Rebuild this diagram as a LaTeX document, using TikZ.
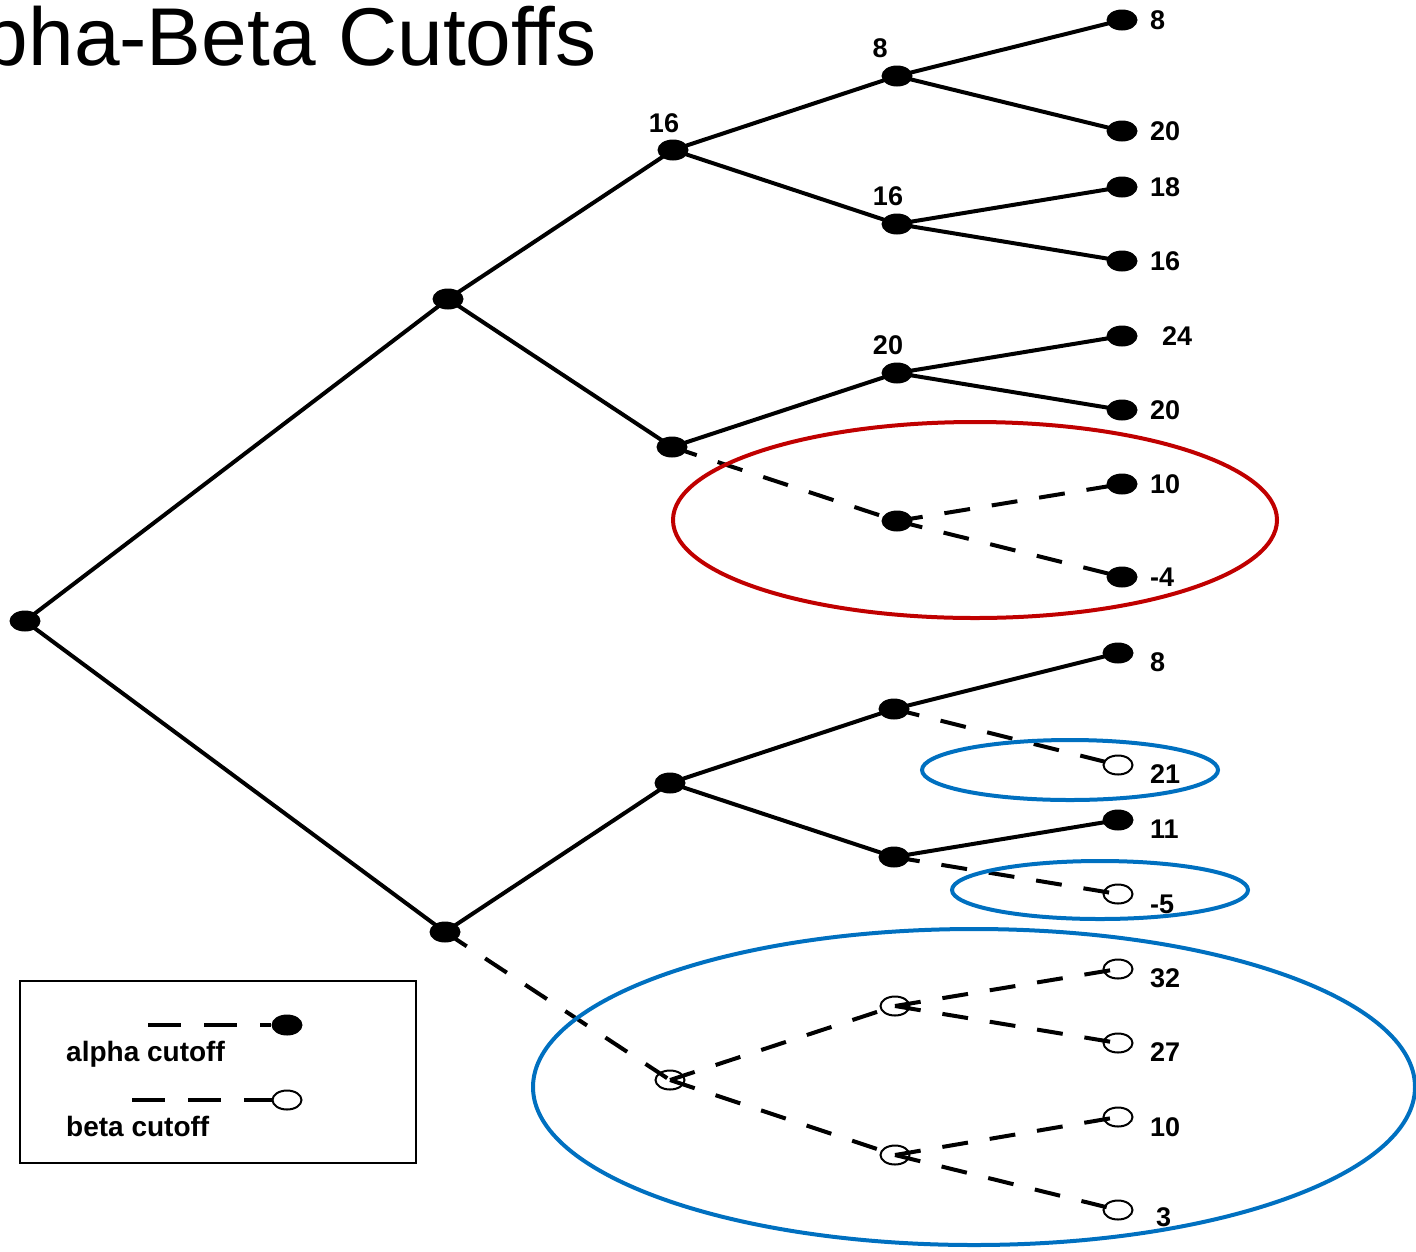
\documentclass[tikz,border=0pt]{standalone}
\usepackage{fontspec}
\setmainfont{Liberation Sans}
\usetikzlibrary{shapes.geometric}
\definecolor{prunered}{HTML}{C00000}
\definecolor{pruneblue}{HTML}{0070C0}
\begin{document}
\begin{tikzpicture}[x=1pt,y=-1pt,
  edge/.style={line width=4pt},
  cutedge/.style={line width=4pt, dash pattern=on 26pt off 22pt},
  keyedge/.style={line width=4pt, dash pattern=on 33pt off 23pt},
  full/.style={ellipse, fill=black, draw=none, minimum width=31pt, minimum height=21pt, inner sep=0pt},
  hollow/.style={ellipse, draw=black, line width=2pt, minimum width=29pt, minimum height=19pt, inner sep=0pt},
  val/.style={font=\fontsize{27}{27}\selectfont\bfseries, inner sep=0pt},
  leafval/.style={val, anchor=west},
  ring/.style={line width=4pt},
  keytext/.style={font=\fontsize{28}{28}\selectfont\bfseries, anchor=base west, inner sep=0pt}
]
\useasboundingbox (0,0) rectangle (1416,1251);

% title, running off the left edge
\node[font=\fontsize{82}{82}\selectfont, anchor=base east, inner sep=0pt] (title) at (597,65) {Alpha-Beta Cutoffs};

% tree node positions
\coordinate (r) at (25,621);
\coordinate (a) at (448,299);
\coordinate (b) at (445,932);
\coordinate (a1) at (673,150);
\coordinate (a2) at (672,447);
\coordinate (b1) at (670,783);
\coordinate (b2) at (670,1080);
\coordinate (a11) at (897,76);
\coordinate (a12) at (897,224);
\coordinate (a21) at (897,373);
\coordinate (a22) at (897,521);
\coordinate (b11) at (894,709);
\coordinate (b12) at (894,857);
\coordinate (b21) at (895,1006);
\coordinate (b22) at (895,1155);

% edges
\draw[edge] (r) -- (a) (r) -- (b);
\draw[edge] (a) -- (a1) (a) -- (a2) (b) -- (b1);
\draw[edge] (a1) -- (a11) (a1) -- (a12) (a2) -- (a21) (b1) -- (b11) (b1) -- (b12);
\draw[cutedge] (a2) -- (a22);
\draw[cutedge] (b) -- (b2);
\draw[cutedge] (b2) -- (b21);
\draw[cutedge] (b2) -- (b22);

% leaves
\node[full] (x1) at (1122,20) {};
\node[full] (x2) at (1122,131) {};
\node[full] (x3) at (1122,187) {};
\node[full] (x4) at (1122,261) {};
\node[full] (x5) at (1122,336) {};
\node[full] (x6) at (1122,410) {};
\node[full] (x7) at (1122,484) {};
\node[full] (x8) at (1122,577) {};
\node[full] (y1) at (1118,653) {};
\node[hollow] (y2) at (1118,765) {};
\node[full] (y3) at (1118,820) {};
\node[hollow] (y4) at (1118,894) {};
\node[hollow] (y5) at (1118,969) {};
\node[hollow] (y6) at (1118,1043) {};
\node[hollow] (y7) at (1118,1117) {};
\node[hollow] (y8) at (1118,1210) {};

\draw[edge] (a11) -- (x1.center) (a11) -- (x2.center);
\draw[edge] (a12) -- (x3.center) (a12) -- (x4.center);
\draw[edge] (a21) -- (x5.center) (a21) -- (x6.center);
\draw[cutedge] (a22) -- (x7.center);
\draw[cutedge] (a22) -- (x8.center);
\draw[edge] (b11) -- (y1.center);
\draw[cutedge] (b11) -- (y2.center);
\draw[edge] (b12) -- (y3.center);
\draw[cutedge] (b12) -- (y4.center);
\draw[cutedge] (b21) -- (y5.center);
\draw[cutedge] (b21) -- (y6.center);
\draw[cutedge] (b22) -- (y7.center);
\draw[cutedge] (b22) -- (y8.center);

% inner nodes
\node[full] (nr) at (r) {};
\node[full] (na) at (a) {};
\node[full] (nb) at (b) {};
\node[full] (na1) at (a1) {};
\node[full] (na2) at (a2) {};
\node[full] (nb1) at (b1) {};
\node[hollow] (nb2) at (b2) {};
\node[full] (na11) at (a11) {};
\node[full] (na12) at (a12) {};
\node[full] (na21) at (a21) {};
\node[full] (na22) at (a22) {};
\node[full] (nb11) at (b11) {};
\node[full] (nb12) at (b12) {};
\node[hollow] (nb21) at (b21) {};
\node[hollow] (nb22) at (b22) {};

% backed-up values
\node[val] (v1) at (664,123) {16};
\node[val] (v2) at (880,48) {8};
\node[val] (v3) at (888,196) {16};
\node[val] (v4) at (888,345) {20};

% leaf values
\node[leafval] (t1) at (1150,20) {8};
\node[leafval] (t2) at (1150,131) {20};
\node[leafval] (t3) at (1150,187) {18};
\node[leafval] (t4) at (1150,261) {16};
\node[leafval] (t5) at (1162,336) {24};
\node[leafval] (t6) at (1150,410) {20};
\node[leafval] (t7) at (1150,484) {10};
\node[leafval] (t8) at (1150,577) {-4};
\node[leafval] (u1) at (1150,662) {8};
\node[leafval] (u2) at (1150,774) {21};
\node[leafval] (u3) at (1150,829) {11};
\node[leafval] (u4) at (1150,904) {-5};
\node[leafval] (u5) at (1150,978) {32};
\node[leafval] (u6) at (1150,1052) {27};
\node[leafval] (u7) at (1150,1127) {10};
\node[leafval] (u8) at (1156,1217) {3};

% pruned regions
\draw[ring, draw=prunered] (975,520) ellipse [x radius=302pt, y radius=98pt];
\draw[ring, draw=pruneblue] (1070,770) ellipse [x radius=148pt, y radius=30pt];
\draw[ring, draw=pruneblue] (1100,890) ellipse [x radius=148pt, y radius=29pt];
\draw[ring, draw=pruneblue] (974,1087) ellipse [x radius=441pt, y radius=158pt];

% key
\node[draw, line width=2pt, minimum width=396pt, minimum height=182pt, inner sep=0pt] (key) at (218,1072) {};
\coordinate (ka) at (148,1025);
\coordinate (kb) at (132,1100);
\node[full] (kA) at (287,1025) {};
\node[hollow] (kB) at (287,1100) {};
\draw[keyedge] (ka) -- (kA);
\draw[keyedge] (kb) -- (kB);
\node[keytext] (kat) at (66,1061) {alpha cutoff};
\node[keytext] (kbt) at (66,1136) {beta cutoff};
\end{tikzpicture}
\end{document}
